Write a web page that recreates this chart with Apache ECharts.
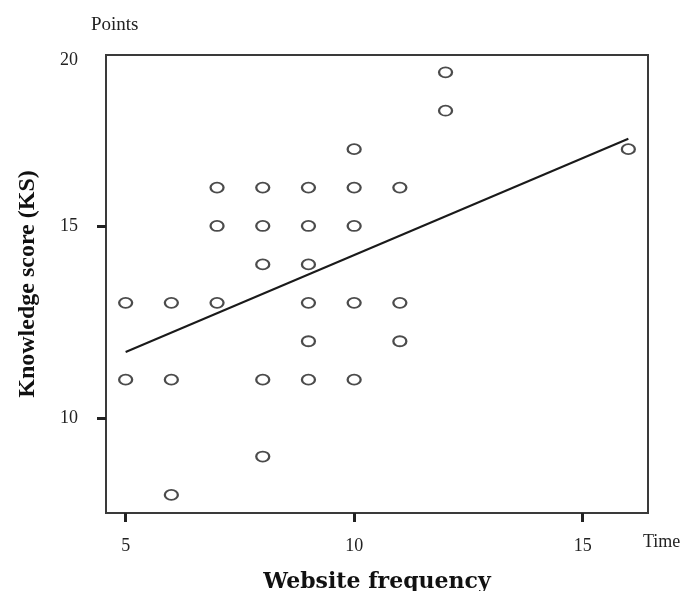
<!DOCTYPE html>
<html>
<head>
<meta charset="utf-8">
<script src="https://cdn.jsdelivr.net/npm/echarts@6/dist/echarts.min.js"></script>
<style>
  html, body { margin: 0; padding: 0; background: #fff; }
  #chart { width: 686px; height: 591px; }
</style>
</head>
<body>
<div id="chart"></div>
<script>
// website frequency (x) and knowledge score (y) for each respondent
var freq  = [5, 5, 6, 6, 6, 7, 7, 7, 8, 8, 8, 8, 8, 9, 9, 9, 9, 9, 9, 10, 10, 10, 10, 10, 11, 11, 11, 12, 12, 16];
var score = [13, 11, 13, 11, 8, 16, 15, 13, 16, 15, 14, 11, 9, 16, 15, 14, 13, 12, 11, 17, 16, 15, 13, 11, 16, 13, 12, 19, 18, 17];

// fitted line ends
var fitX = [5, 16];
var fitY = [11.72, 17.27];

var xTicks = [5, 10, 15];
// the original figure prints "20" right under the top of the box
var yTickValues = [10, 15, 19.3];
var yTickLabels = ['10', '15', '20'];

var points = freq.map(function (f, i) { return [f, score[i]]; });
var fitLine = fitX.map(function (x, i) { return [x, fitY[i]]; });

var serif = '"Liberation Serif", "DejaVu Serif", serif';
var chart = echarts.init(document.getElementById('chart'));

chart.setOption({
    animation: false,
    backgroundColor: '#fff',
    grid: {
        left: 106,
        right: 38,
        top: 55,
        bottom: 78,
        outerBoundsMode: 'none',
        show: true,
        borderColor: '#3a3a3a',
        borderWidth: 2
    },
    xAxis: {
        type: 'value',
        min: 4.57,
        max: 16.43,
        name: 'Website frequency',
        nameLocation: 'middle',
        nameGap: 58,
        nameTextStyle: { fontFamily: '"DejaVu Serif", serif', fontWeight: 'bold', fontSize: 22, color: '#111' },
        splitLine: { show: false },
        axisLine: { show: true, lineStyle: { color: '#3a3a3a', width: 2 } },
        axisTick: { show: true, customValues: xTicks, length: 9, lineStyle: { color: '#222', width: 3 } },
        axisLabel: {
            customValues: xTicks,
            margin: 24,
            fontFamily: serif,
            fontSize: 18,
            color: '#222'
        }
    },
    yAxis: {
        type: 'value',
        min: 7.53,
        max: 19.45,
        name: 'Knowledge score (KS)',
        nameLocation: 'middle',
        nameGap: 66,
        nameTextStyle: { fontFamily: serif, fontWeight: 'bold', fontSize: 24, color: '#111' },
        splitLine: { show: false },
        axisLine: { show: true, lineStyle: { color: '#3a3a3a', width: 2 } },
        axisTick: { show: true, customValues: [10, 15], length: 9, lineStyle: { color: '#222', width: 3 } },
        axisLabel: {
            customValues: yTickValues,
            margin: 28,
            fontFamily: serif,
            fontSize: 18,
            color: '#222',
            formatter: function (v) {
                var i = yTickValues.indexOf(v);
                return i >= 0 ? yTickLabels[i] : '';
            }
        }
    },
    graphic: [
        {
            type: 'text',
            left: 91,
            top: 16,
            style: { text: 'Points', fontFamily: serif, fontSize: 19, fill: '#222' }
        },
        {
            type: 'text',
            left: 643,
            top: 533,
            style: { text: 'Time', fontFamily: serif, fontSize: 18, fill: '#222' }
        }
    ],
    series: [
        {
            type: 'line',
            data: fitLine,
            symbol: 'none',
            lineStyle: { color: '#1a1a1a', width: 2 },
            z: 2
        },
        {
            type: 'scatter',
            data: points,
            symbol: 'circle',
            symbolSize: [13, 10],
            itemStyle: { color: '#fff', borderColor: '#1e1e1e', borderWidth: 2 },
            z: 3
        }
    ]
});
</script>
</body>
</html>
